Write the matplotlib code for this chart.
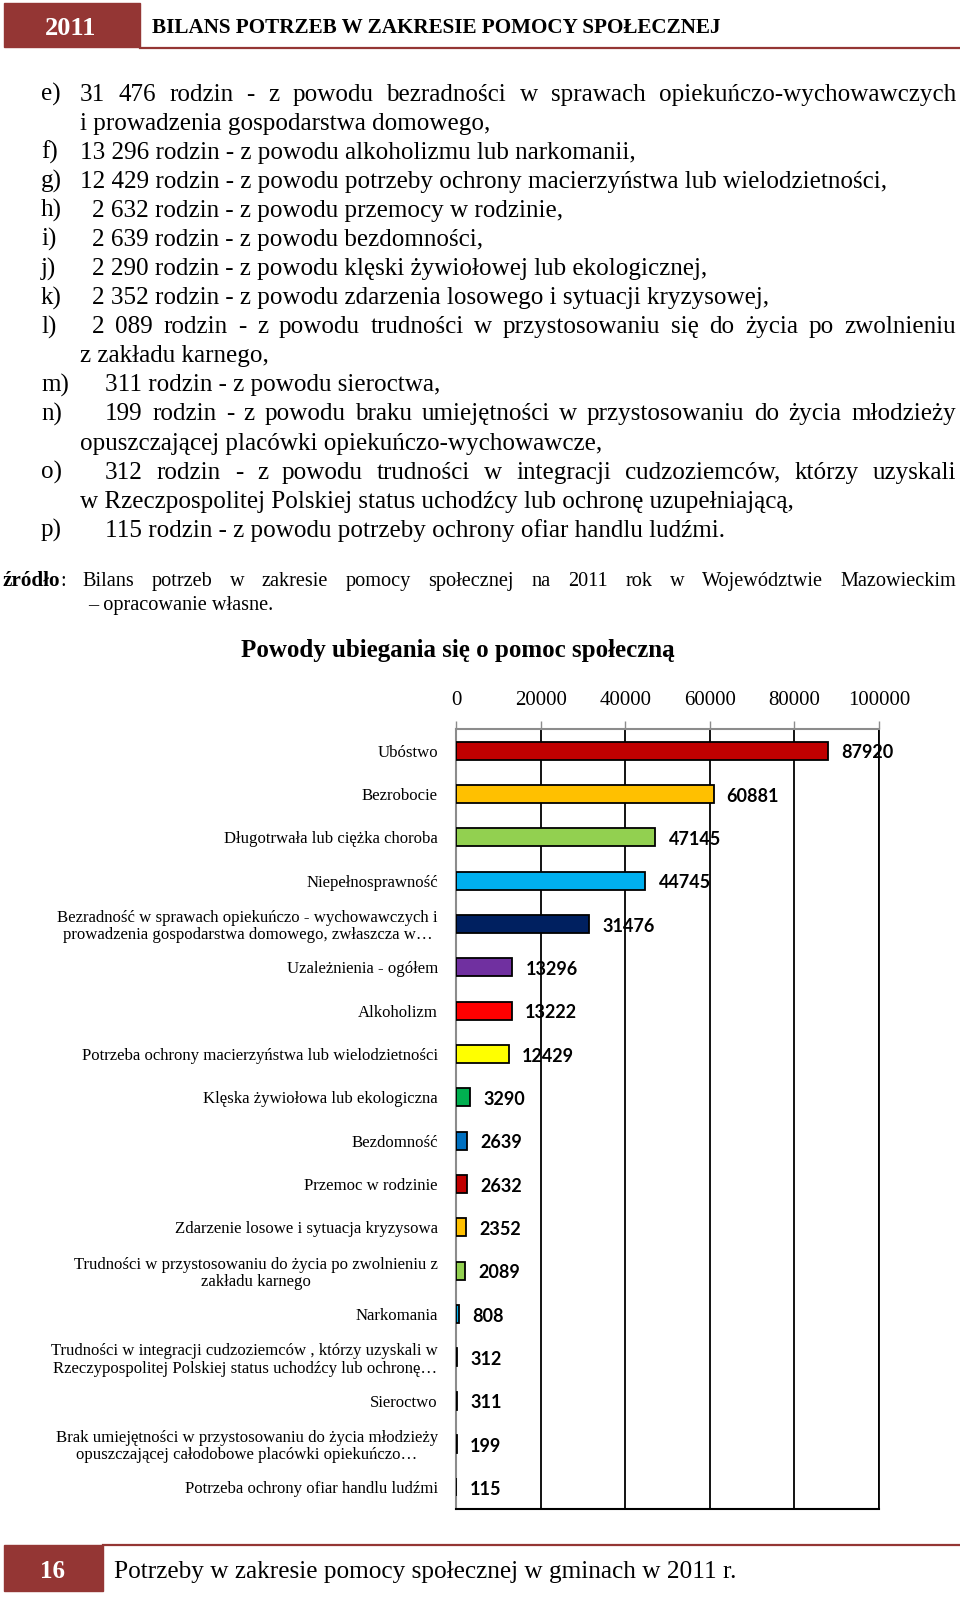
import matplotlib
matplotlib.use('Agg')
import matplotlib.pyplot as plt
from matplotlib.patches import Rectangle
from matplotlib.lines import Line2D

# chart data
categories = [
    'Ubóstwo',
    'Bezrobocie',
    'Długotrwała lub ciężka choroba',
    'Niepełnosprawność',
    'Bezradność w sprawach opiekuńczo - wychowawczych i\nprowadzenia gospodarstwa domowego, zwłaszcza w…',
    'Uzależnienia - ogółem',
    'Alkoholizm',
    'Potrzeba ochrony macierzyństwa lub wielodzietności',
    'Klęska żywiołowa lub ekologiczna',
    'Bezdomność',
    'Przemoc w rodzinie',
    'Zdarzenie losowe i sytuacja kryzysowa',
    'Trudności w przystosowaniu do życia po zwolnieniu z\nzakładu karnego',
    'Narkomania',
    'Trudności w integracji cudzoziemców , którzy uzyskali w\nRzeczypospolitej Polskiej status uchodźcy lub ochronę…',
    'Sieroctwo',
    'Brak umiejętności w przystosowaniu do życia młodzieży\nopuszczającej całodobowe placówki opiekuńczo…',
    'Potrzeba ochrony ofiar handlu ludźmi',
]
values = [87920, 60881, 47145, 44745, 31476, 13296, 13222, 12429, 3290,
          2639, 2632, 2352, 2089, 808, 312, 311, 199, 115]
bar_colors = ['#C00000', '#FFC000', '#92D050', '#00B0F0', '#002060', '#7030A0',
              '#FF0000', '#FFFF00', '#00B050', '#0070C0', '#C00000', '#FFC000',
              '#92D050', '#00B0F0', '#002060', '#7030A0', '#FF0000', '#FFFF00']
xticks = [0, 20000, 40000, 60000, 80000, 100000]

# page text
header_year = '2011'
header_title = 'BILANS POTRZEB W ZAKRESIE POMOCY SPOŁECZNEJ'
footer_page = '16'
footer_title = 'Potrzeby w zakresie pomocy społecznej w gminach w 2011 r.'
chart_title = 'Powody ubiegania się o pomoc społeczną'

# (marker, text, justified)
body_lines = [
    ('e)', '31 476 rodzin - z powodu bezradności w sprawach opiekuńczo-wychowawczych', True),
    ('', 'i prowadzenia gospodarstwa domowego,', False),
    ('f)', '13 296 rodzin - z powodu alkoholizmu lub narkomanii,', False),
    ('g)', '12 429 rodzin - z powodu potrzeby ochrony macierzyństwa lub wielodzietności,', False),
    ('h)', '2 632 rodzin - z powodu przemocy w rodzinie,', False),
    ('i)', '2 639 rodzin - z powodu bezdomności,', False),
    ('j)', '2 290 rodzin - z powodu klęski żywiołowej lub ekologicznej,', False),
    ('k)', '2 352 rodzin - z powodu zdarzenia losowego i sytuacji kryzysowej,', False),
    ('l)', '2 089 rodzin - z powodu trudności w przystosowaniu się do życia po zwolnieniu', True),
    ('', 'z zakładu karnego,', False),
    ('m)', '311 rodzin - z powodu sieroctwa,', False),
    ('n)', '199 rodzin - z powodu braku umiejętności w przystosowaniu do życia młodzieży', True),
    ('', 'opuszczającej placówki opiekuńczo-wychowawcze,', False),
    ('o)', '312 rodzin - z powodu trudności w integracji cudzoziemców, którzy uzyskali', True),
    ('', 'w Rzeczpospolitej Polskiej status uchodźcy lub ochronę uzupełniającą,', False),
    ('p)', '115 rodzin - z powodu potrzeby ochrony ofiar handlu ludźmi.', False),
]
body_indent = [80, 80, 80, 80, 92, 92, 92, 92, 92, 80, 105, 105, 80, 105, 80, 105]
source_label = 'źródło'
source_text = 'Bilans potrzeb w zakresie pomocy społecznej na 2011 rok w Województwie Mazowieckim'
source_cont = '– opracowanie własne.'

W, H = 960, 1597
SERIF = 'Liberation Serif'
RED = '#943634'
BODY = 18.1
SRC = 14.6


def fx(x):
    return x / W


def fy(y):
    return 1 - y / H


fig = plt.figure(figsize=(W / 100, H / 100), dpi=100)
renderer = fig.canvas.get_renderer()


def justified(text, x0, x1, yb, **kw):
    words = text.split(' ')
    objs = [fig.text(0, fy(yb), w, va='baseline', **kw) for w in words]
    widths = [o.get_window_extent(renderer).width for o in objs]
    gap = (x1 - x0 - sum(widths)) / (len(words) - 1)
    x = x0
    for o, w in zip(objs, widths):
        o.set_x(fx(x))
        x += w + gap


# header and footer bands
fig.add_artist(Rectangle((fx(4), fy(47)), fx(140) - fx(4), 44 / H,
                         transform=fig.transFigure, color=RED))
fig.add_artist(Line2D([fx(140), fx(960)], [fy(48), fy(48)], color=RED, lw=1.6))
fig.text(fx(71), fy(35), header_year, color='white', family=SERIF, weight='bold',
         fontsize=19, ha='center', va='baseline')
fig.text(fx(152), fy(33), header_title, family=SERIF, weight='bold',
         fontsize=15.2, ha='left', va='baseline')

fig.add_artist(Rectangle((fx(4), fy(1591)), fx(103) - fx(4), 46 / H,
                         transform=fig.transFigure, color=RED))
fig.add_artist(Line2D([fx(103), fx(960)], [fy(1545), fy(1545)], color=RED, lw=1.6))
fig.text(fx(53), fy(1578), footer_page, color='white', family=SERIF, weight='bold',
         fontsize=18, ha='center', va='baseline')
fig.text(fx(114), fy(1578), footer_title, family=SERIF,
         fontsize=18.2, ha='left', va='baseline')

# body list
for i, ((mark, text, just), indent) in enumerate(zip(body_lines, body_indent)):
    yb = 100.7 + i * 29.07
    if mark:
        fig.text(fx(41), fy(yb), mark, family=SERIF, fontsize=BODY, va='baseline')
    if just:
        justified(text, indent, 956, yb, family=SERIF, fontsize=BODY)
    else:
        fig.text(fx(indent), fy(yb), text, family=SERIF, fontsize=BODY, va='baseline')

lab = fig.text(fx(3), fy(586), source_label, family=SERIF, weight='bold', fontsize=15.2, va='baseline')
lab_w = lab.get_window_extent(renderer).width
fig.text(fx(3 + lab_w), fy(586), ':', family=SERIF, fontsize=SRC, va='baseline')
justified(source_text, 82, 956, 586, family=SERIF, fontsize=SRC)
fig.text(fx(88), fy(610), source_cont, family=SERIF, fontsize=SRC, va='baseline')

# chart
fig.text(fx(458), fy(657), chart_title, family=SERIF, weight='bold',
         fontsize=18, ha='center', va='baseline')

ax = fig.add_axes([fx(456), fy(1509), (879 - 456) / W, (1509 - 729) / H])
pos = list(range(len(values)))
ax.barh(pos, values, height=0.42, color=bar_colors, edgecolor='black', linewidth=1.3, zorder=3)
ax.set_xlim(0, 100000)
ax.set_ylim(len(values) - 0.5, -0.5)

for p, v in zip(pos, values):
    ax.annotate(str(v), (v, p), xytext=(9.5, -1.5), textcoords='offset points',
                ha='left', va='center', family='Lato', weight='bold', fontsize=13,
                zorder=4)

ax.xaxis.tick_top()
ax.set_xticks(xticks)
ax.set_xticklabels([str(t) for t in xticks], family=SERIF, fontsize=15)
ax.tick_params(axis='x', length=6, width=1, color='#8c8c8c', pad=7.5)
ax.set_yticks(pos)
ax.set_yticklabels(categories, family=SERIF, fontsize=12.1, linespacing=1.1)
for t in ax.get_yticklabels():
    t.set_multialignment('center')
ax.tick_params(axis='y', length=0, pad=13)

ax.grid(True, axis='x', color='black', linewidth=1.3, zorder=1)
ax.set_axisbelow(True)
for side in ['left', 'top']:
    ax.spines[side].set_color('#8c8c8c')
    ax.spines[side].set_linewidth(1.5)
ax.spines['bottom'].set_color('black')
ax.spines['bottom'].set_linewidth(1.5)
ax.spines['right'].set_color('black')
ax.spines['right'].set_linewidth(1.3)

fig.savefig('out.png', dpi=100)
